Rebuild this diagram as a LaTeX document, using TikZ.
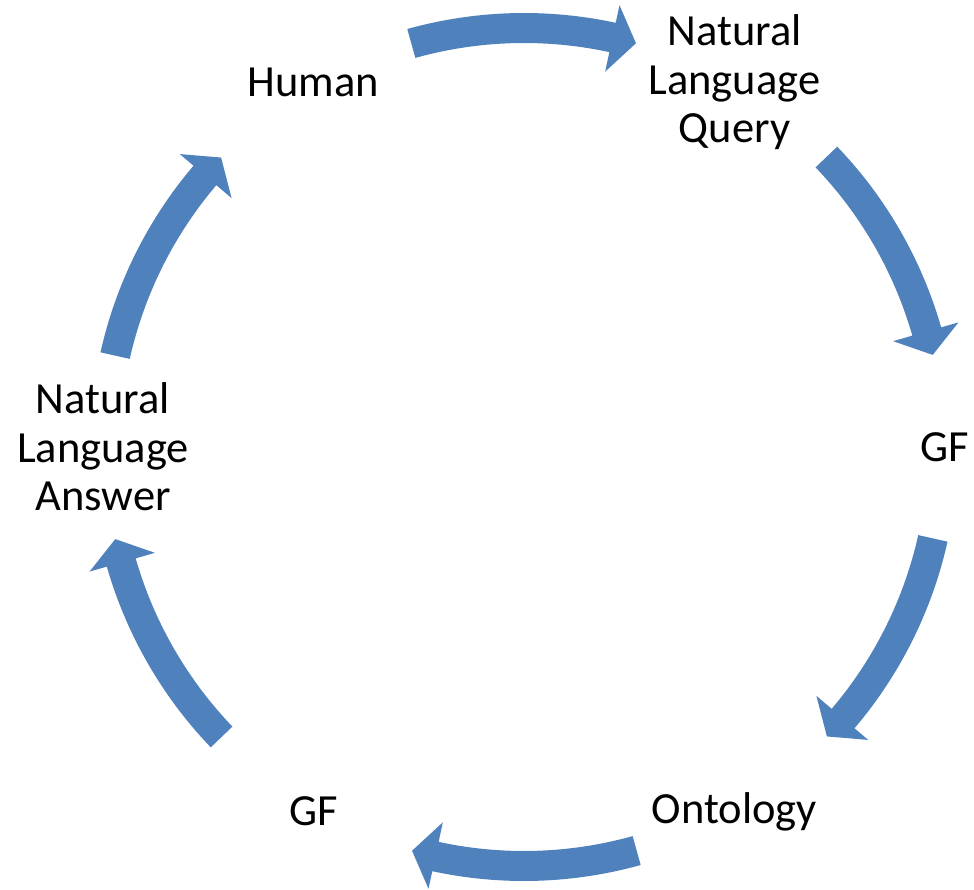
\documentclass[tikz,border=0pt]{standalone}
\usepackage{fontspec}
\setmainfont{Carlito}
\definecolor{cycleblue}{HTML}{4F81BD}
\tikzset{
  cyclelabel/.style={font=\fontsize{44.5}{48.5}\selectfont, align=center, inner sep=0pt},
  cyclearrow/.style={fill=cycleblue}
}

\begin{document}
\begin{tikzpicture}[x=1pt, y=1pt]
  \useasboundingbox (-524,-442) rectangle (450,447);
  % steps of the cycle, on a circle
  \node[cyclelabel] (human) at (120:421) {Human};
  \node[cyclelabel] (nlq) at (60:421) {Natural\\Language\\Query};
  \node[cyclelabel] (gfin) at (0:421) {GF};
  \node[cyclelabel] (onto) at (-60:421) {Ontology};
  \node[cyclelabel] (gfout) at (-120:421) {GF};
  \node[cyclelabel] (nla) at (180:421) {Natural\\Language\\Answer};

  % curved block arrows between the steps (clockwise)
  \foreach \r in {0,-61.8,-118.2,-180,-241.8,-298.2} {
    \fill[cyclearrow, rotate=\r] (105.6:434) arc[start angle=105.6, end angle=77.8, radius=434pt]
      -- (77.8:452) -- (74.5:419) -- (77.8:384) -- (77.8:404)
      arc[start angle=77.8, end angle=105.6, radius=404pt] -- cycle;
  }
\end{tikzpicture}
\end{document}
